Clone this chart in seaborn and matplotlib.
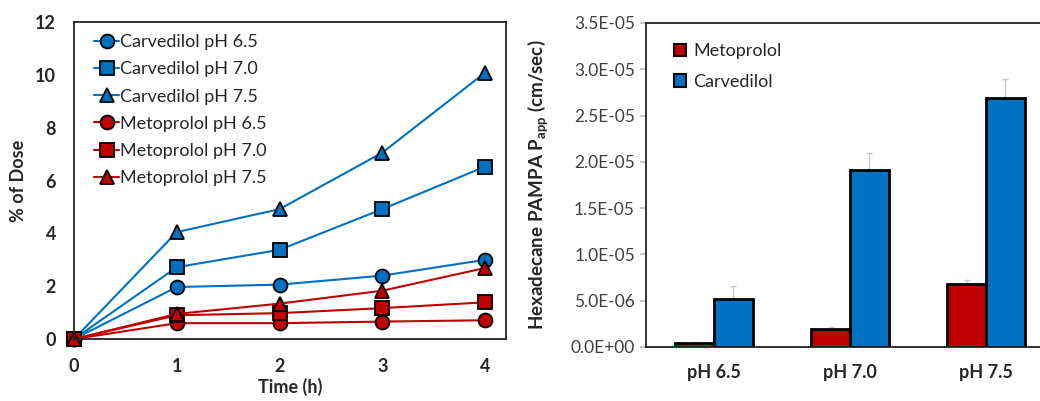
import matplotlib
matplotlib.use("Agg")
import matplotlib.pyplot as plt
import seaborn as sns
import pandas as pd
from matplotlib.lines import Line2D
from matplotlib.patches import Patch
from matplotlib.ticker import FuncFormatter

# --- datos: panel izquierdo (% de dosis vs tiempo) ---
time_h = [0, 1, 2, 3, 4]
carv_65 = [0, 1.97, 2.06, 2.40, 3.00]
carv_70 = [0, 2.72, 3.38, 4.92, 6.53]
carv_75 = [0, 4.05, 4.92, 7.06, 10.09]
meto_65 = [0, 0.60, 0.60, 0.66, 0.71]
meto_70 = [0, 0.90, 0.98, 1.17, 1.39]
meto_75 = [0, 0.95, 1.34, 1.83, 2.69]

series_names = ["Carvedilol pH 6.5", "Carvedilol pH 7.0", "Carvedilol pH 7.5",
                "Metoprolol pH 6.5", "Metoprolol pH 7.0", "Metoprolol pH 7.5"]
series_vals = [carv_65, carv_70, carv_75, meto_65, meto_70, meto_75]

# --- datos: panel derecho (Papp) ---
ph_labels = ["pH 6.5", "pH 7.0", "pH 7.5"]
drugs = ["Metoprolol", "Carvedilol"]
meto_papp = [0.47e-6, 1.91e-6, 6.75e-6]
carv_papp = [5.16e-6, 19.1e-6, 26.9e-6]
meto_err = [0.1e-6, 0.2e-6, 0.47e-6]
carv_err = [1.44e-6, 1.9e-6, 2.0e-6]

RED = "#C00000"
BLUE = "#0070C0"

sns.set_theme(style="white")
plt.rcParams["font.family"] = ["Lato", "DejaVu Sans"]
plt.rcParams["mathtext.fontset"] = "custom"
plt.rcParams["mathtext.rm"] = "Lato"
plt.rcParams["mathtext.bf"] = "Lato:bold"

df_line = pd.DataFrame({
    "time": [t for _ in series_names for t in time_h],
    "dose": [v for vals in series_vals for v in vals],
    "series": [n for n in series_names for _ in time_h],
})
palette = {n: (BLUE if n.startswith("Carv") else RED) for n in series_names}
marker_map = {n: m for n, m in zip(series_names, ["o", "s", "^", "o", "s", "^"])}

fig = plt.figure(figsize=(10.4, 4.01), dpi=100)

# Panel izquierdo
ax0 = fig.add_axes([0.0712, 0.1546, 0.415, 0.790])
sns.lineplot(data=df_line, x="time", y="dose", hue="series", style="series",
             hue_order=series_names, style_order=series_names,
             palette=palette, markers=marker_map, dashes=False,
             markersize=10, markeredgecolor="black", markeredgewidth=1.3,
             linewidth=1.5, ax=ax0, legend=False, clip_on=False)
ax0.set_xlim(0, 4.2)
ax0.set_ylim(0, 12)
ax0.set_xticks(time_h)
ax0.set_yticks(range(0, 13, 2))
ax0.tick_params(axis="y", length=0, labelsize=13, pad=13)
ax0.tick_params(axis="x", length=0, labelsize=13, pad=14)
for lab in ax0.get_xticklabels() + ax0.get_yticklabels():
    lab.set_fontweight("bold")
for s in ax0.spines.values():
    s.set_color("#222222")
    s.set_linewidth(1.3)
ax0.set_xlabel("Time (h)", fontsize=13, fontweight="bold", labelpad=2)
ax0.set_ylabel("% of Dose", fontsize=13, fontweight="bold", labelpad=6)

handles = [Line2D([], [], color=palette[n], marker=marker_map[n], markersize=10,
                  markeredgecolor="black", markeredgewidth=1.3, linewidth=1.5)
           for n in series_names]
ax0.legend(handles, series_names, loc="upper left", frameon=False, fontsize=13,
           handlelength=1.4, handletextpad=0.05, labelspacing=0.62,
           bbox_to_anchor=(0.03, 0.985), borderaxespad=0)

# Panel derecho
df_bar = pd.DataFrame({
    "ph": ph_labels * 2,
    "papp": meto_papp + carv_papp,
    "drug": [drugs[0]] * 3 + [drugs[1]] * 3,
})
ax1 = fig.add_axes([0.6212, 0.1347, 0.3923, 0.808])
sns.barplot(data=df_bar, x="ph", y="papp", hue="drug", hue_order=drugs,
            palette={"Metoprolol": RED, "Carvedilol": BLUE}, width=0.57,
            saturation=1, edgecolor="black", linewidth=2, errorbar=None,
            ax=ax1, legend=False)
for cont, errs in zip(ax1.containers, [meto_err, carv_err]):
    xs = [p.get_x() + p.get_width() / 2 for p in cont.patches]
    hs = [p.get_height() for p in cont.patches]
    ax1.errorbar(xs, hs, yerr=[[0] * len(errs), errs], fmt="none",
                 ecolor="#C8C8C8", elinewidth=1, capsize=2, zorder=0)
ax1.set_xlim(-0.5, 2.5)
ax1.set_ylim(0, 3.5e-5)
ax1.set_yticks([i * 5e-6 for i in range(8)])
ax1.yaxis.set_major_formatter(FuncFormatter(lambda v, p: f"{v:.1E}"))
ax1.tick_params(axis="y", length=4, color="#BFBFBF", labelsize=12.5,
                labelcolor="#404040", pad=4, left=True)
ax1.tick_params(axis="x", length=0, labelsize=13, pad=12)
for lab in ax1.get_xticklabels():
    lab.set_fontweight("bold")
for s in ax1.spines.values():
    s.set_color("#222222")
    s.set_linewidth(1.3)
ax1.set_xlabel("")
ax1.set_ylabel(r"Hexadecane PAMPA P$_{\mathbf{app}}$ (cm/sec)", fontsize=13.5,
               fontweight="bold", labelpad=14)
leg_handles = [Patch(facecolor=RED, edgecolor="black", linewidth=1.5),
               Patch(facecolor=BLUE, edgecolor="black", linewidth=1.5)]
ax1.legend(leg_handles, drugs, loc="upper left", frameon=False, fontsize=13,
           handlelength=0.7, handleheight=0.7, handletextpad=0.4,
           labelspacing=0.8, bbox_to_anchor=(0.05, 0.96), borderaxespad=0)

fig.savefig("out.png", dpi=100)
